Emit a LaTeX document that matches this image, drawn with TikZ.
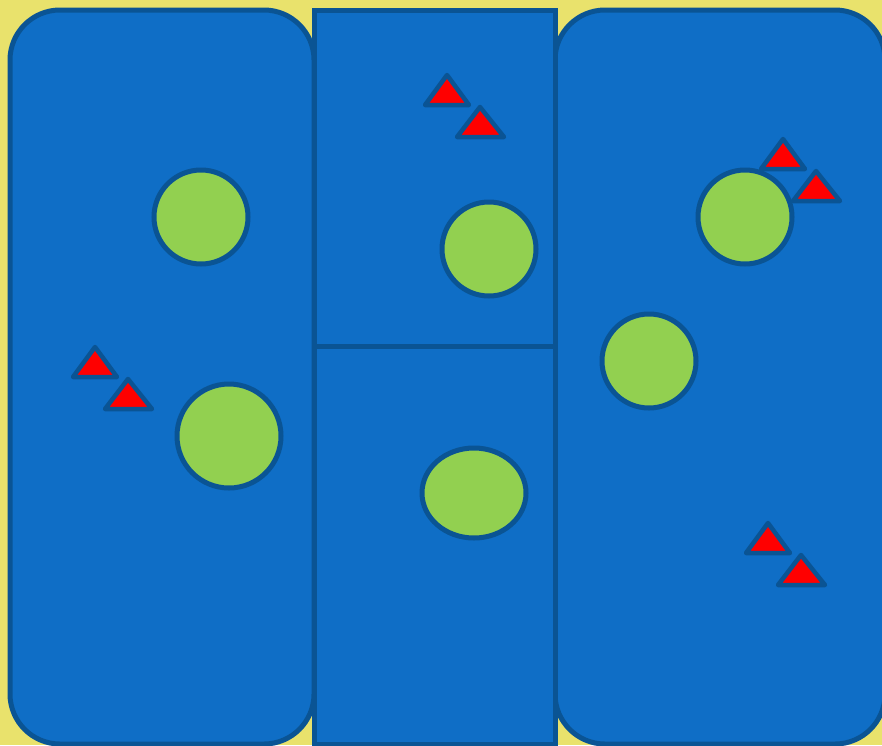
\documentclass[tikz,border=0pt]{standalone}
\usepackage{xcolor}
\usepackage{tikz}
\usetikzlibrary{shapes.geometric}
\definecolor{cellyellow}{RGB}{233,226,108}
\definecolor{cellblue}{RGB}{15,110,198}
\definecolor{celledge}{RGB}{10,84,148}
\definecolor{nucgreen}{RGB}{146,208,80}
\definecolor{markred}{RGB}{255,0,0}

\tikzset{
  cell/.style={draw=celledge, fill=cellblue, line width=5pt},
  nucleus/.style={draw=celledge, fill=nucgreen, line width=5pt, circle, inner sep=0pt, minimum size=94pt},
  marker/.style={draw=celledge, fill=markred, line width=4.5pt, line join=round}
}

\begin{document}
\begin{tikzpicture}[x=1pt, y=-1pt]
    % background
    \fill[cellyellow] (0,0) rectangle (882,745);
    \useasboundingbox (0,0) rectangle (882,745);

    % cells
    \draw[cell, rounded corners=50pt] (10,10) rectangle (314,744);
    \draw[cell, rounded corners=50pt] (555,10) rectangle (885,744);
    \draw[cell] (314,10) rectangle (555,346);
    \draw[cell] (314,346) rectangle (555,744);

    % nuclei
    \node[nucleus] (nucA) at (201,217) {};
    \node[nucleus, minimum size=104pt] (nucB) at (229,436) {};
    \node[nucleus] (nucC) at (489,249) {};
    \node[nucleus, ellipse, minimum width=104pt, minimum height=90pt] (nucD) at (474,493) {};
    \node[nucleus] (nucE) at (745,217) {};
    \node[nucleus] (nucF) at (649,361) {};

    % markers
    \foreach \x/\y in {95/347, 447/75, 783/139, 768/523} {
        \draw[marker] (\x,\y) -- ++(-22,30) -- ++(44,0) -- cycle;
        \draw[marker] (\x+33,\y+32) -- ++(-23,30) -- ++(47,0) -- cycle;
    }
\end{tikzpicture}
\end{document}
